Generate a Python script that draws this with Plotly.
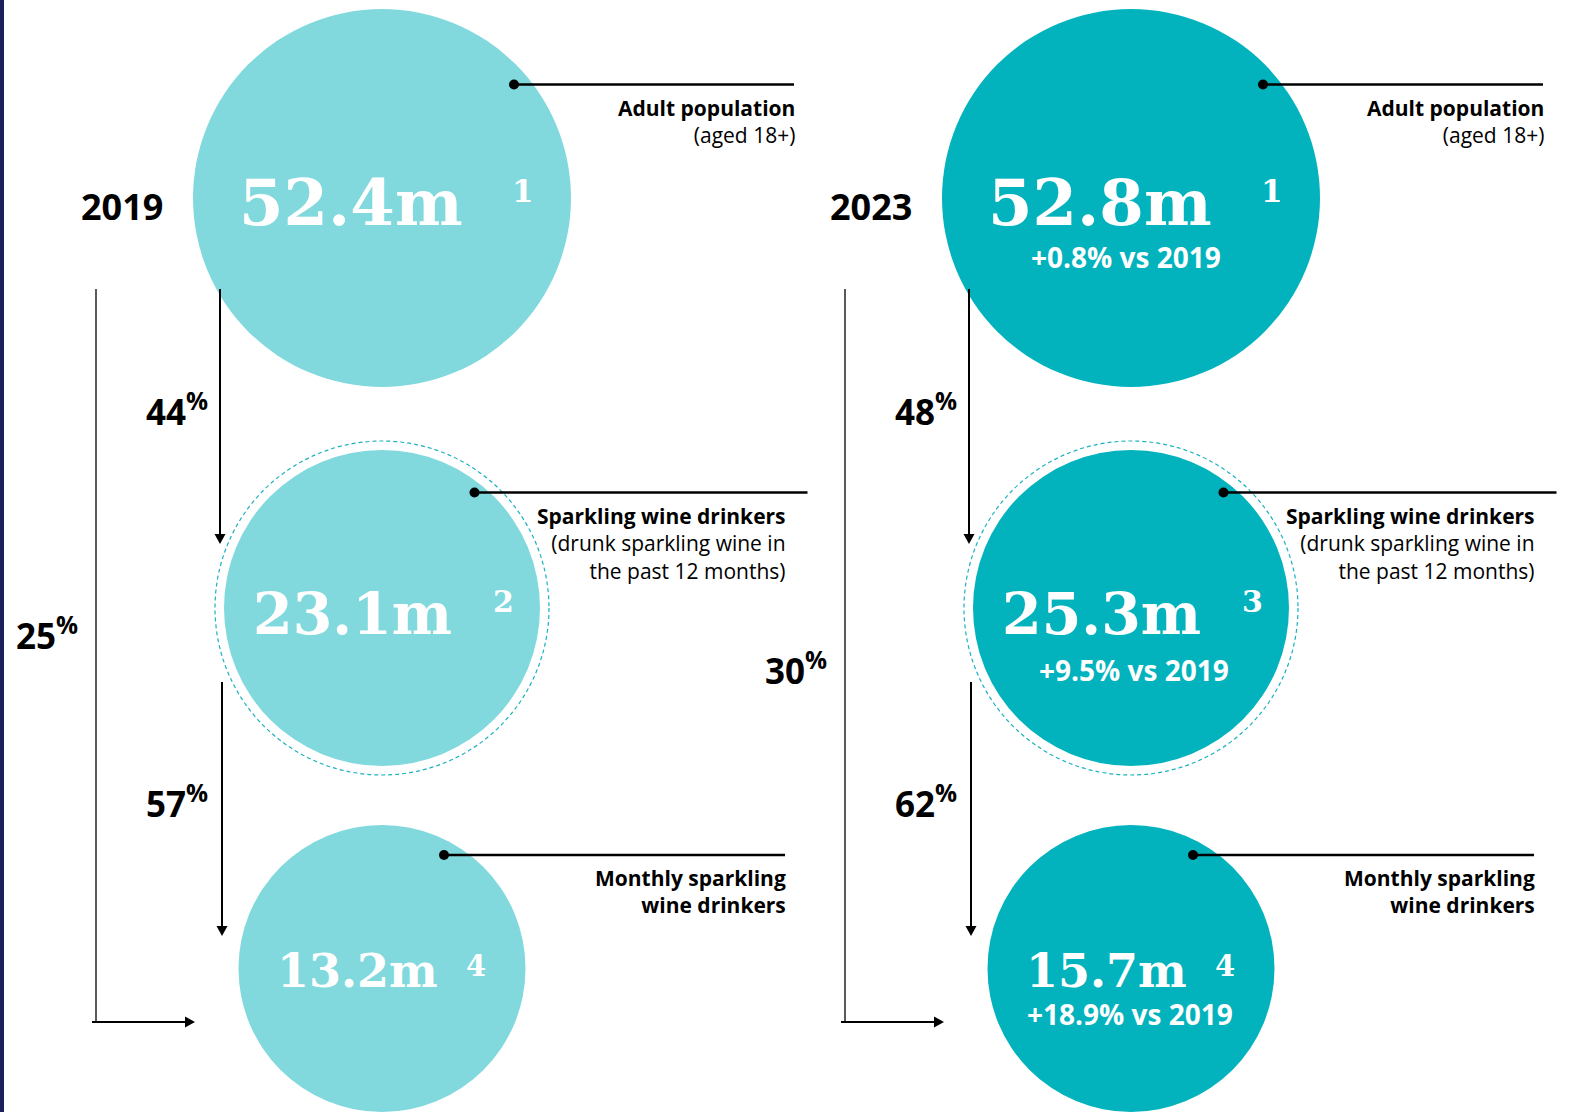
import plotly.graph_objects as go

W, H = 1577, 1112

# ---------------- data ----------------
years = ["2019", "2023"]
stage_names = [
    "<b>Adult population</b><br>(aged 18+)",
    "<b>Sparkling wine drinkers</b><br>(drunk sparkling wine in<br>the past 12 months)",
    "<b>Monthly sparkling<br>wine drinkers</b>",
]
people_m_2019 = [52.4, 23.1, 13.2]
people_m_2023 = [52.8, 25.3, 15.7]
source_note_2019 = [1, 2, 4]
source_note_2023 = [1, 3, 4]
growth_vs_2019_pct = [0.8, 9.5, 18.9]
step_conversion_2019 = [44, 57]
step_conversion_2023 = [48, 62]
overall_conversion = [25, 30]

# ---------------- layout / style ----------------
PANEL_DX = [0, 749]
FILL = ["#81D9DD", "#02B3BE"]
RING = "#1AB2C0"
SANS = "Open Sans"
SERIF = "DejaVu Serif"

CX = 382
CY = [198, 608, 968.5]
R = [189, 158, 143.5]
RING_R = 167

NUM_DX = [-31, -30, -25]
NUM_Y = [202, 613, 971]
NUM_SIZE = [64, 57, 46]
SUP_DX = [141, 121, 94]
SUP_Y = [191, 601, 966]
SUP_SIZE = [31, 30, 29]
SUB_DX = [-5, 3, -1]
SUB_Y = [257, 670, 1014]

DOT = [(514, 84.5), (474.5, 492.5), (444, 855)]
LEAD_END = [794, 807.5, 785]
LABEL_RIGHT = [797, 787.5, 787.5]
LABEL_Y = [121, 543, 891]

fig = go.Figure()
shapes = []
annotations = []

# navy edge strip
shapes.append(dict(type="rect", x0=0, x1=4, y0=0, y1=H, fillcolor="#1B1F5B",
                   line=dict(width=0), layer="below"))


def text(x, y, s, size, color="black", family=SANS, xanchor="center", align="center"):
    annotations.append(dict(x=x, y=y, xref="x", yref="y", text=s, showarrow=False,
                            xanchor=xanchor, yanchor="middle", align=align,
                            font=dict(family=family, size=size, color=color)))


def line(x0, y0, x1, y1, width):
    shapes.append(dict(type="line", x0=x0, y0=y0, x1=x1, y1=y1,
                       line=dict(color="black", width=width)))


def head_down(x, yt):
    shapes.append(dict(type="path", path=f"M {x-5.5},{yt-10} L {x+5.5},{yt-10} L {x},{yt} Z",
                       fillcolor="black", line=dict(width=0)))


def head_right(xt, y):
    shapes.append(dict(type="path", path=f"M {xt-10},{y-5.5} L {xt-10},{y+5.5} L {xt},{y} Z",
                       fillcolor="black", line=dict(width=0)))


def pct(x, y, v):
    text(x, y, f"<b>{v}<sup>%</sup></b>", 35)


panels = [
    (people_m_2019, source_note_2019, None, step_conversion_2019),
    (people_m_2023, source_note_2023, growth_vs_2019_pct, step_conversion_2023),
]

for p, (vals, notes, growth, steps) in enumerate(panels):
    dx = PANEL_DX[p]
    cx = CX + dx

    # circles
    for i in range(3):
        shapes.append(dict(type="circle", xref="x", yref="y",
                           x0=cx - R[i], x1=cx + R[i], y0=CY[i] - R[i], y1=CY[i] + R[i],
                           fillcolor=FILL[p], line=dict(width=0), layer="below"))
    shapes.append(dict(type="circle", xref="x", yref="y",
                       x0=cx - RING_R, x1=cx + RING_R, y0=CY[1] - RING_R, y1=CY[1] + RING_R,
                       fillcolor="rgba(0,0,0,0)", line=dict(color=RING, width=1.2, dash="4px,3px"),
                       layer="below"))

    # values inside circles
    for i in range(3):
        text(cx + NUM_DX[i], NUM_Y[i], f"<b>{vals[i]:.1f}m</b>", NUM_SIZE[i], "white", SERIF)
        text(cx + SUP_DX[i], SUP_Y[i], f"<b>{notes[i]}</b>", SUP_SIZE[i], "white", SERIF)
        if growth is not None:
            text(cx + SUB_DX[i], SUB_Y[i], f"<b>+{growth[i]:.1f}% vs 2019</b>", 28, "white")

    # leader lines and stage labels
    for i in range(3):
        dxl, dyl = DOT[i]
        line(dxl + dx, dyl, LEAD_END[i] + dx, dyl, 2.5)
        shapes.append(dict(type="circle", x0=dxl + dx - 5, x1=dxl + dx + 5, y0=dyl - 5, y1=dyl + 5,
                           fillcolor="black", line=dict(width=0)))
        text(LABEL_RIGHT[i] + dx, LABEL_Y[i], stage_names[i], 21, xanchor="right", align="right")

    # year
    text(122 + dx, 206, f"<b>{years[p]}</b>", 36)

    # step arrows
    line(220 + dx, 289, 220 + dx, 536, 2)
    head_down(220 + dx, 544)
    line(222 + dx, 682, 222 + dx, 928, 2)
    head_down(222 + dx, 936)
    pct(177 + dx, 409, steps[0])
    pct(177 + dx, 801, steps[1])

    # overall bracket arrow
    line(96 + dx, 289, 96 + dx, 1022, 1.3)
    line(92 + dx, 1022, 187 + dx, 1022, 2.2)
    head_right(195 + dx, 1022)
    pct(47 + dx, [633, 668][p], overall_conversion[p])

fig.update_layout(
    width=W, height=H,
    margin=dict(l=0, r=0, t=0, b=0),
    paper_bgcolor="white", plot_bgcolor="white",
    xaxis=dict(range=[0, W], visible=False, fixedrange=True),
    yaxis=dict(range=[H, 0], visible=False, fixedrange=True),
    showlegend=False,
    shapes=shapes,
    annotations=annotations,
)

fig.write_html("out.html", config={"displayModeBar": False})
